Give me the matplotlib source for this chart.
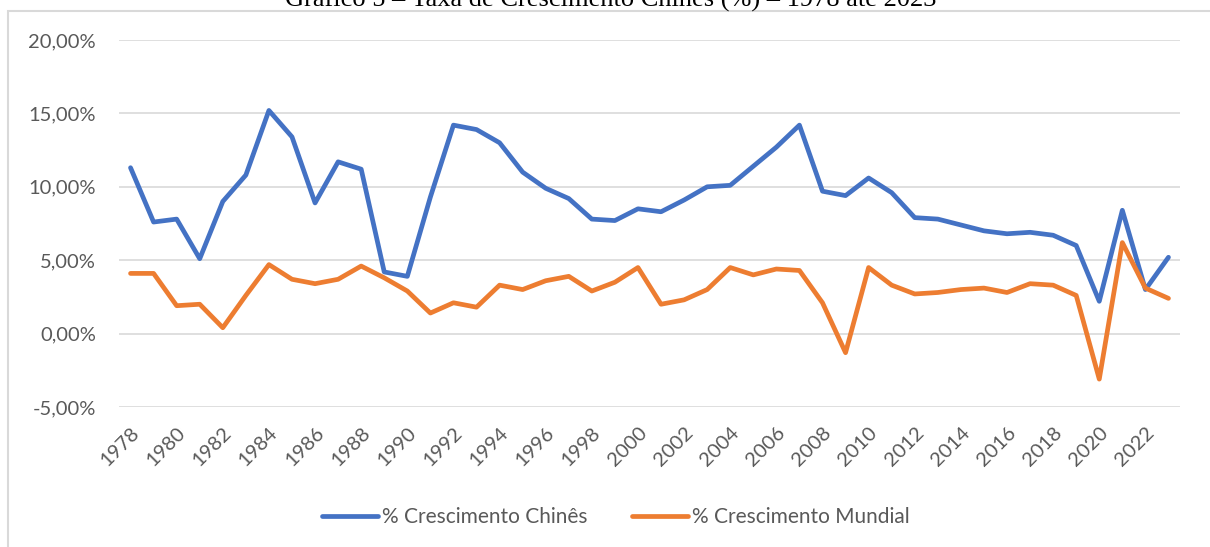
import matplotlib.pyplot as plt
from matplotlib.patches import Rectangle
from matplotlib.ticker import FuncFormatter

# Data (annual growth, %)
years = list(range(1978, 2024))
china = [11.3, 7.6, 7.8, 5.1, 9.0, 10.8, 15.2, 13.4, 8.9, 11.7,
         11.2, 4.2, 3.9, 9.3, 14.2, 13.9, 13.0, 11.0, 9.9, 9.2,
         7.8, 7.7, 8.5, 8.3, 9.1, 10.0, 10.1, 11.4, 12.7, 14.2,
         9.7, 9.4, 10.6, 9.6, 7.9, 7.8, 7.4, 7.0, 6.8, 6.9,
         6.7, 6.0, 2.2, 8.4, 3.0, 5.2]
world = [4.1, 4.1, 1.9, 2.0, 0.4, 2.6, 4.7, 3.7, 3.4, 3.7,
         4.6, 3.8, 2.9, 1.4, 2.1, 1.8, 3.3, 3.0, 3.6, 3.9,
         2.9, 3.5, 4.5, 2.0, 2.3, 3.0, 4.5, 4.0, 4.4, 4.3,
         2.1, -1.3, 4.5, 3.3, 2.7, 2.8, 3.0, 3.1, 2.8, 3.4,
         3.3, 2.6, -3.1, 6.2, 3.1, 2.4]
series_labels = ['% Crescimento Chinês', '% Crescimento Mundial']
title = 'Gráfico 5 – Taxa de Crescimento Chinês (%) – 1978 até 2023'

W, H = 1210, 547
fig = plt.figure(figsize=(W / 100, H / 100), dpi=100)
plt.rcParams['font.family'] = ['Lato', 'DejaVu Sans']

# chart frame (Excel-style light border, runs off the right/bottom edge)
fig.patches.append(Rectangle((8 / W, -0.1), 1.2, 1 - 11 / H + 0.1,
                             transform=fig.transFigure, fill=False,
                             edgecolor='#D9D9D9', linewidth=1.5))

# title sits partly above the image edge, as in the original
fig.text(611 / W, 1 - 7 / H, title, ha='center', va='baseline',
         family='Liberation Serif', fontsize=19, color='black')

ax = fig.add_axes([119 / W, (H - 407) / H, (1180 - 119) / W, (407 - 40) / H])
x = list(range(len(years)))
ax.plot(x, china, color='#4472C4', linewidth=3.4, solid_joinstyle='round',
        solid_capstyle='round', label=series_labels[0])
ax.plot(x, world, color='#ED7D31', linewidth=3.4, solid_joinstyle='round',
        solid_capstyle='round', label=series_labels[1])

ax.set_xlim(-0.5, len(years) - 0.5)
ax.set_ylim(-5, 20)
ax.set_yticks([-5, 0, 5, 10, 15, 20])
ax.yaxis.set_major_formatter(FuncFormatter(lambda v, p: f'{v:.2f}%'.replace('.', ',')))
ax.set_xticks(x[::2])
ax.set_xticklabels([str(y) for y in years[::2]], rotation=45, ha='right',
                   va='top', rotation_mode='anchor')
ax.tick_params(axis='both', length=0, labelsize=14.5, labelcolor='#595959')
ax.tick_params(axis='x', pad=12)
ax.tick_params(axis='y', pad=16.5)
ax.grid(axis='y', color='#D9D9D9', linewidth=1.2)
ax.set_axisbelow(True)
for s in ax.spines.values():
    s.set_visible(False)

leg = fig.legend(loc='center', bbox_to_anchor=(616 / W, 1 - 517 / H), ncol=2,
                 frameon=False, fontsize=15, handlelength=2.7, handletextpad=0.2,
                 columnspacing=2.1)
for t in leg.get_texts():
    t.set_color('#595959')

fig.savefig('out.png', dpi=100)
